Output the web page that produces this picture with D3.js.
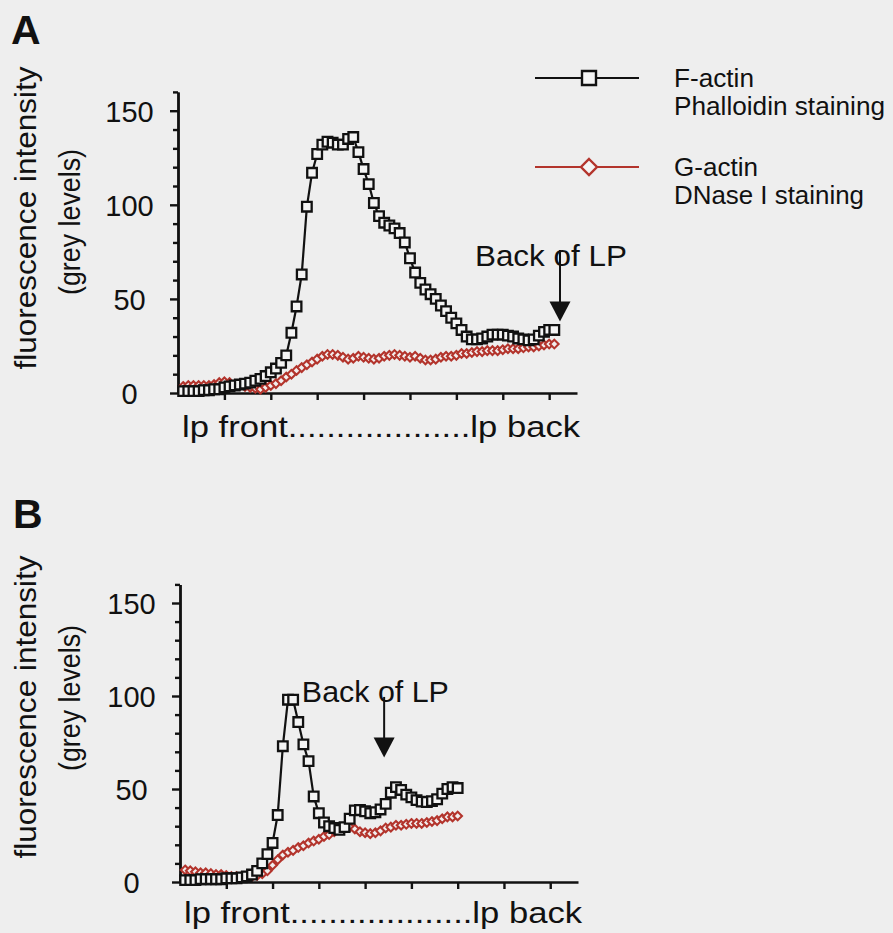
<!DOCTYPE html>
<html>
<head>
  <meta charset="utf-8">
  <title>Actin profiles</title>
  <style>
  body { margin: 0; background: #eeeeee; }
  text { font-family: Arial, "Liberation Sans", sans-serif; fill: #111; }
  .axis path, .axis line { stroke: #111; stroke-width: 2.4px; }
  .f-line { fill: none; stroke: #111; stroke-width: 2.2px; stroke-linejoin: round; }
  .g-line { fill: none; stroke: #b3342c; stroke-width: 1.8px; stroke-linejoin: round; }
  </style>
</head>
<body>
  <div id="chart"></div>
  <script src="https://cdn.jsdelivr.net/npm/d3@7"></script>
  <script>
  // F-actin (phalloidin) and G-actin (DNase I) profiles, grey levels, front -> back of lamellipodium
  var fActinA = [1, 1, 1, 1, 1.5, 1.5, 2, 2, 3, 3.5, 4, 4.5, 5, 5.5, 6.5, 7.5, 9, 11, 13, 16,
    20, 32, 46, 63, 99, 117, 127, 132, 133.5, 133, 132, 132, 135, 136, 128, 119, 111, 101, 94, 90.5,
    89, 87.5, 85, 80, 71.6, 64, 58.5, 55, 52.5, 50, 46.5, 43.5, 40, 37, 33.5, 30, 28.5, 28.5, 29, 30,
    31, 31, 31, 30.5, 30, 29, 28.5, 28, 28.5, 30.5, 32.5, 33.5, 33.5];
  var gActinA = [3.5, 4, 4, 4, 4, 4, 4.5, 5.5, 6, 5.5, 4.5, 4, 3.5, 3, 2.5, 2, 3, 4, 5, 6.5,
    8.5, 10, 12, 13.5, 15, 16.5, 18, 19.5, 20.5, 20.5, 20, 19, 18, 18.5, 19.5, 19, 18.5, 18, 18.5, 19.5,
    20, 20.5, 20, 19.5, 19, 19.5, 18.5, 17.5, 17.5, 18, 19, 19.5, 19.5, 20, 21, 21, 21.5, 22, 22, 22.5,
    22.5, 22.5, 23, 23.5, 23.5, 23.5, 24, 24.5, 24.5, 25, 25.5, 26, 26];
  var fActinB = [1, 1, 1, 1.5, 1.5, 1.5, 1.5, 1.5, 2, 2, 2, 2.5, 3, 4, 6, 10, 15, 21, 36, 73,
    98, 98, 86, 74, 65, 46, 37, 32, 30, 29, 28, 29.5, 34, 38.5, 38.7, 38, 37, 37.5, 39, 42,
    48, 51, 49.5, 47, 45.5, 44, 43.2, 43, 43.5, 44.5, 47.5, 50, 51, 50.5];
  var gActinB = [6.5, 6, 5.5, 5, 5, 4.5, 4, 4, 3.5, 3, 3, 3, 3, 3, 3.5, 4.5, 6, 9, 12, 14.5,
    16, 17, 18.5, 19.5, 21, 22, 23, 24.5, 25.5, 27, 28.5, 29.5, 29.5, 28.5, 27, 26.5, 26, 26.5, 27.5, 29,
    29.5, 30.5, 30.5, 31, 31.5, 31.5, 31.5, 32, 32.5, 33, 34, 35, 35, 35.5];

  var yMajor = [0, 50, 100, 150];
  var yMinor = [10, 20, 30, 40, 60, 70, 80, 90, 110, 120, 130, 140, 160];
  var xTicks = [9, 18, 27, 36, 45, 54, 63, 72];
  var xLabel = "lp front...................lp back";
  var yLabel = ["fluorescence intensity", "(grey levels)"];
  var legendItems = [["F-actin", "Phalloidin staining"], ["G-actin", "DNase I staining"]];
  // annotation "Back of LP": arrow x (sample index), arrow top / tip value, label anchor
  var noteA = { x: 74.1, top: 76, tip: 38, tx: 57.6, ty: 67.5 };
  var noteB = { x: 39.7, top: 99.5, tip: 67, tx: 23.7, ty: 97 };

  var width = 893, height = 933;
  var svg = d3.select("#chart").append("svg")
    .attr("width", width).attr("height", height);
  svg.append("rect").attr("width", width).attr("height", height).attr("fill", "#eeeeee");

  var squarePath = function(s) { return "M" + (-s) + "," + (-s) + "H" + s + "V" + s + "H" + (-s) + "Z"; };
  var diamondPath = function(s) { return "M0," + (-s) + "L" + s + ",0L0," + s + "L" + (-s) + ",0Z"; };

  function drawPanel(p) {
    var x = d3.scaleLinear().domain([0, 77.4]).range([p.left, p.right]);
    var y = d3.scaleLinear().domain([0, 160]).range([p.base, p.top]);
    var g = svg.append("g");

    //panel letter
    g.append("text").attr("x", p.left - 167).attr("y", p.letterY)
      .attr("font-size", 41).attr("font-weight", "bold").text(p.name);

    //y label, two rotated lines
    yLabel.forEach(function(t, i) {
      g.append("text")
        .attr("transform", "translate(" + p.ylabX[i] + "," + p.ylabY[i] + ") rotate(-90)")
        .attr("text-anchor", "middle").attr("font-size", 29)
        .attr("textLength", i == 0 ? 303 : 146).attr("lengthAdjust", "spacingAndGlyphs")
        .text(t);
    });

    //minor ticks
    g.append("g").attr("class", "axis")
      .attr("transform", "translate(" + p.left + ",0)")
      .call(d3.axisLeft(y).tickValues(yMinor).tickSize(5).tickSizeOuter(0).tickFormat(""));
    //major ticks with centred labels
    var ya = g.append("g").attr("class", "axis")
      .attr("transform", "translate(" + p.left + ",0)")
      .call(d3.axisLeft(y).tickValues(yMajor).tickSize(8).tickSizeOuter(0));
    ya.selectAll("text")
      .attr("x", -48.5).attr("dy", "0.36em")
      .attr("text-anchor", "middle").attr("font-size", 29)
      .attr("font-family", "Arial, 'Liberation Sans', sans-serif").attr("fill", "#111");

    //x axis
    g.append("g").attr("class", "axis")
      .attr("transform", "translate(0," + p.base + ")")
      .call(d3.axisBottom(x).tickValues(xTicks).tickSize(7).tickSizeOuter(0).tickFormat(""));
    g.append("text").attr("x", p.left + 4).attr("y", p.base + p.xlabDy)
      .attr("font-size", 29).attr("textLength", 398).attr("lengthAdjust", "spacingAndGlyphs")
      .text(xLabel);

    //G-actin series
    var line = d3.line().x(function(d, i) { return x(i + 1); }).y(function(d) { return y(d); });
    g.append("path").datum(p.g).attr("class", "g-line").attr("d", line);
    g.selectAll(".gpt").data(p.g).enter().append("path")
      .attr("class", "gpt")
      .attr("transform", function(d, i) { return "translate(" + x(i + 1) + "," + y(d) + ")"; })
      .attr("d", diamondPath(4.3))
      .attr("fill", "#f2eeee").attr("stroke", "#b3342c").attr("stroke-width", 2.1);

    //F-actin series
    g.append("path").datum(p.f).attr("class", "f-line").attr("d", line);
    g.selectAll(".fpt").data(p.f).enter().append("path")
      .attr("class", "fpt")
      .attr("transform", function(d, i) { return "translate(" + x(i + 1) + "," + y(d) + ")"; })
      .attr("d", squarePath(4.8))
      .attr("fill", "#f4f4f4").attr("stroke", "#111").attr("stroke-width", 2.3);

    //annotation
    var n = p.note;
    g.append("text").attr("x", x(n.tx)).attr("y", y(n.ty))
      .attr("font-size", 29.5).attr("textLength", p.noteLen).attr("lengthAdjust", "spacingAndGlyphs")
      .text("Back of LP");
    g.append("line")
      .attr("x1", x(n.x)).attr("x2", x(n.x))
      .attr("y1", y(n.top)).attr("y2", y(n.tip) - 15)
      .attr("stroke", "#111").attr("stroke-width", 2);
    g.append("path")
      .attr("d", "M" + (x(n.x) - 10.5) + "," + (y(n.tip) - 20) + "L" + (x(n.x) + 10.5) + "," + (y(n.tip) - 20)
        + "L" + x(n.x) + "," + y(n.tip) + "Z")
      .attr("fill", "#111");
  }

  drawPanel({ name: "A", f: fActinA, g: gActinA, note: noteA, noteLen: 152,
    left: 178, right: 577, base: 393, top: 91.9, letterY: 44,
    ylabX: [36, 80], ylabY: [218, 222], xlabDy: 44 });
  drawPanel({ name: "B", f: fActinB, g: gActinB, note: noteB, noteLen: 147,
    left: 180, right: 578, base: 882, top: 584.4, letterY: 528,
    ylabX: [36, 80], ylabY: [707, 698], xlabDy: 41 });

  //legend
  var legend = svg.append("g");
  var legY = [78, 167];
  legendItems.forEach(function(item, i) {
    var row = legend.append("g").attr("transform", "translate(0," + legY[i] + ")");
    row.append("line").attr("x1", 535).attr("x2", 639).attr("y1", 0).attr("y2", 0)
      .attr("stroke", i == 0 ? "#111" : "#b3342c").attr("stroke-width", 2.2);
    row.append("path").attr("transform", "translate(589,0)")
      .attr("d", i == 0 ? squarePath(7) : diamondPath(8))
      .attr("fill", "#f4f4f4").attr("stroke", i == 0 ? "#111" : "#b3342c").attr("stroke-width", 2.4);
    row.append("text").attr("x", 674).attr("y", 8.5).attr("font-size", 25)
      .attr("textLength", i == 0 ? 80 : 84).attr("lengthAdjust", "spacingAndGlyphs").text(item[0]);
    row.append("text").attr("x", 674).attr("y", 37).attr("font-size", 25)
      .attr("textLength", i == 0 ? 211 : 190).attr("lengthAdjust", "spacingAndGlyphs").text(item[1]);
  });
  </script>
</body>
</html>
